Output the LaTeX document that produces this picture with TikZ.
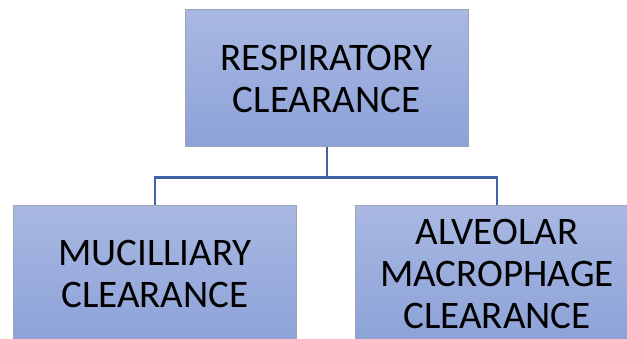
\documentclass[tikz,border=0pt]{standalone}
\usepackage{fontspec}
\setmainfont{Carlito}
\definecolor{boxtop}{HTML}{A9B8E2}
\definecolor{boxbot}{HTML}{8CA2D8}
\definecolor{boxline}{HTML}{9CA3B2}
\definecolor{linkblue}{HTML}{3F63A6}

\begin{document}
\begin{tikzpicture}
  [x=1pt,y=1pt,every node/.style={rectangle,draw=boxline,line width=1pt,
   top color=boxtop,bottom color=boxbot,minimum width=283pt,minimum height=137pt,
   inner sep=0pt,align=center,font=\fontsize{39}{42}\selectfont}]
  \useasboundingbox (0,0) rectangle (627,338);
  \clip (0,0) rectangle (627,338);
  \node (resp) at (326.5,259.5) {RESPIRATORY\\CLEARANCE};
  \node (muco) at (155,64.5) {MUCILLIARY\\CLEARANCE};
  \node (alveo) at (497,64.5) {ALVEOLAR\\MACROPHAGE\\CLEARANCE};
  \foreach \to in {muco, alveo}
    \draw [linkblue,line width=2pt] (resp.south) -- ++(0,-30) -| (\to.north);
\end{tikzpicture}
\end{document}
